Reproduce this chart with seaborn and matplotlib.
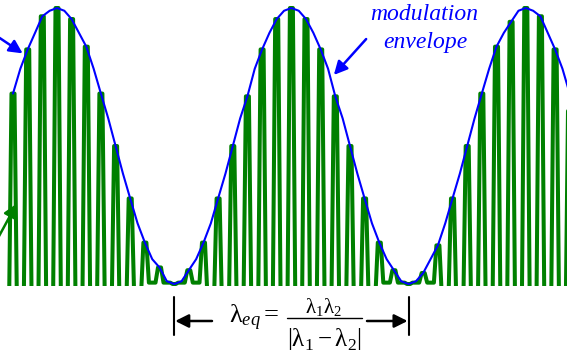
import numpy as np
import pandas as pd
import matplotlib
matplotlib.use("Agg")
import matplotlib.pyplot as plt
import seaborn as sns

# carrier crests: horizontal position (px along the trace) and crest height
carrier_x = [13.0, 27.7, 42.3, 57.0, 71.6, 86.3, 100.9, 115.6, 130.2, 144.9,
             159.5, 174.2, 188.8, 203.5, 218.1, 232.8, 247.4, 262.1, 276.7, 291.4,
             306.0, 320.7, 335.3, 350.0, 364.6, 379.3, 393.9, 408.6, 423.2, 437.9,
             452.5, 467.2, 481.8, 496.5, 511.1, 525.8, 540.4, 555.1, 569.7]
crest = [0.69, 0.85, 0.97, 1.00, 0.96, 0.86, 0.69, 0.50, 0.31, 0.15,
         0.06, 0.00, 0.05, 0.15, 0.31, 0.50, 0.68, 0.85, 0.96, 1.00,
         0.96, 0.85, 0.68, 0.50, 0.31, 0.15, 0.05, 0.00, 0.04, 0.14,
         0.31, 0.50, 0.69, 0.86, 0.95, 1.00, 0.97, 0.85, 0.69]
# troughs between successive crests (negative ones fall below the baseline)
trough = [-0.10, -0.10, -0.10, -0.10, -0.10, -0.10, -0.10, -0.10, -0.05, 0.005,
          0.005, 0.005, 0.005, -0.05, -0.10, -0.10, -0.10, -0.10, -0.10, -0.10,
          -0.10, -0.10, -0.10, -0.10, -0.05, 0.005, 0.005, 0.005, 0.005, -0.05,
          -0.10, -0.10, -0.10, -0.10, -0.10, -0.10, -0.10, -0.10]
# envelope height read half-way between crests
env_mid = [0.78, 0.91, 0.99, 0.99, 0.91, 0.78, 0.60, 0.40, 0.22, 0.09,
           0.01, 0.01, 0.09, 0.22, 0.40, 0.60, 0.78, 0.91, 0.99, 0.99,
           0.91, 0.78, 0.60, 0.40, 0.22, 0.09, 0.01, 0.01, 0.09, 0.22,
           0.40, 0.60, 0.78, 0.91, 0.99, 0.99, 0.91, 0.78]

GREEN = "#008000"
BLUE = "#0000ff"

sns.set_theme(style="white")
plt.rcParams["mathtext.fontset"] = "custom"
plt.rcParams["mathtext.rm"] = "Liberation Serif"
plt.rcParams["mathtext.it"] = "Liberation Serif:italic"

# green trace: each crest drawn as a narrow pulse
foot, top = 4.0, 1.5
wx, wy = [], []
for i, (xc, yc) in enumerate(zip(carrier_x, crest)):
    left = trough[i - 1] if i > 0 else trough[0]
    right = trough[i] if i < len(trough) else trough[-1]
    wx += [xc - foot, xc - top, xc + top, xc + foot]
    wy += [left, yc, yc, right]
wave = pd.DataFrame({"x": wx, "y": wy})

# envelope through crest tops and half-way readings
half = (carrier_x[1] - carrier_x[0]) / 2
ex, ey = [], []
for i, (xc, yc) in enumerate(zip(carrier_x, crest)):
    ex.append(xc)
    ey.append(yc)
    if i < len(env_mid):
        ex.append(xc + half)
        ey.append(env_mid[i])
env = pd.DataFrame({"x": ex, "y": ey})

fig = plt.figure(figsize=(5.67, 3.53), dpi=100)
ax = fig.add_axes([0, 0.1898, 1, 0.8102])

sns.lineplot(data=wave, x="x", y="y", ax=ax, color=GREEN, lw=2.9,
             sort=False, estimator=None)
sns.lineplot(data=env, x="x", y="y", ax=ax, color=BLUE, lw=1.5,
             sort=False, estimator=None)

ax.set_xlim(0, 567)
ax.set_ylim(-0.0072, 1.029)
ax.axis("off")

# labels and pointers
ax.text(424, 0.955, "modulation", color=BLUE, fontsize=17, style="italic",
        family="Liberation Serif", ha="center", va="baseline")
ax.text(425, 0.855, "envelope", color=BLUE, fontsize=17, style="italic",
        family="Liberation Serif", ha="center", va="baseline")
head = dict(arrowstyle="-|>", mutation_scale=20, lw=1.8)
ax.annotate("", xy=(332, 0.75), xytext=(368, 0.895),
            arrowprops=dict(head, color=BLUE), annotation_clip=False)
ax.annotate("", xy=(25, 0.83), xytext=(-8, 0.91),
            arrowprops=dict(head, color=BLUE), annotation_clip=False)
ax.annotate("", xy=(18, 0.30), xytext=(-6, 0.14),
            arrowprops=dict(head, color=GREEN), annotation_clip=False)

# equivalent wavelength span between the two nodes
nodes = [carrier_x[i] for i, c in enumerate(crest) if c == 0.0]
for xn in nodes:
    ax.plot([xn, xn], [-0.047, -0.185], color="black", lw=1.5, clip_on=False)
ax.annotate("", xy=(nodes[0] + 1, -0.134), xytext=(212, -0.134),
            arrowprops=dict(head, color="black", shrinkA=0, shrinkB=0),
            annotation_clip=False)
ax.annotate("", xy=(nodes[1] - 1, -0.134), xytext=(367, -0.134),
            arrowprops=dict(head, color="black", shrinkA=0, shrinkB=0),
            annotation_clip=False)
ax.text(279, -0.141, r"$\mathrm{\lambda}_{eq} =$", fontsize=19,
        ha="right", va="baseline", color="black")
ax.text(323, -0.105, r"$\mathrm{\lambda}_1\mathrm{\lambda}_2$", fontsize=15,
        ha="center", va="baseline", color="black")
ax.plot([287, 362], [-0.123, -0.123], color="black", lw=1.0, clip_on=False)
ax.text(324, -0.2246,
        r"$\left|\mathrm{\lambda}_1 - \mathrm{\lambda}_2\right|$", fontsize=18,
        ha="center", va="baseline", color="black")

fig.savefig("out.png", dpi=100)
